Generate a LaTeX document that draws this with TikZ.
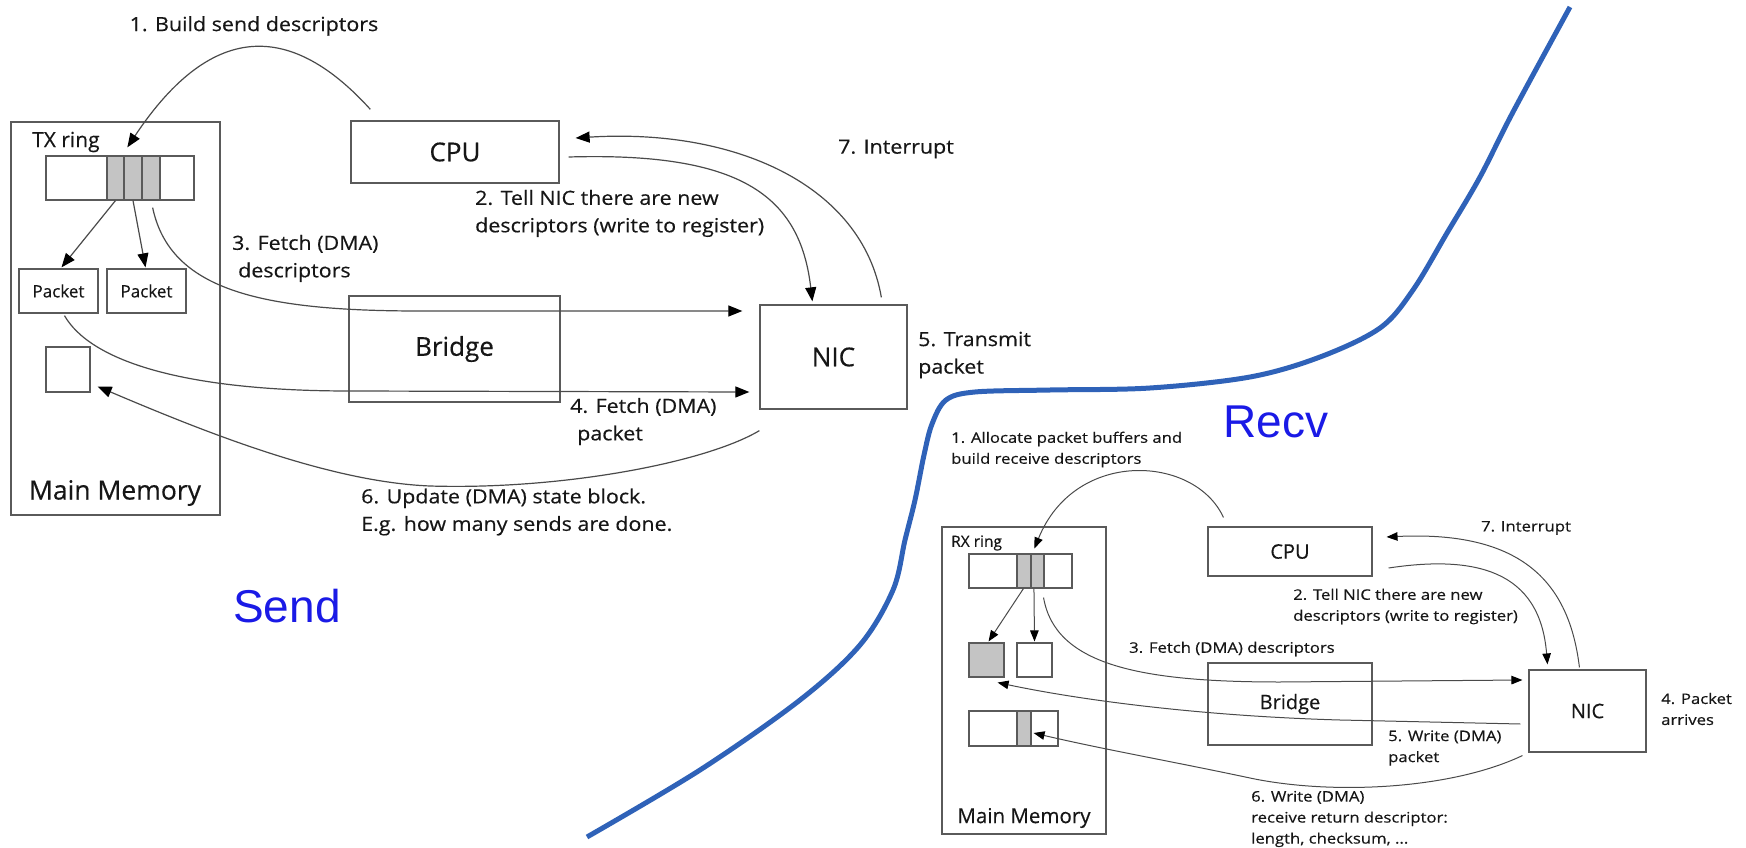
\documentclass[tikz,border=0pt]{standalone}
\usepackage{fontspec}
\setmainfont{Open Sans}[FakeStretch=1.15, FakeBold=0.4]
\newfontfamily\boxf{Open Sans}[FakeBold=0.4]
\newfontfamily\sendf{Open Sans}[FakeStretch=1.1, FakeBold=0.4]
\newfontfamily\arialf{Liberation Sans}
\usetikzlibrary{arrows.meta,calc}
\definecolor{linec}{HTML}{4A4A4A}
\definecolor{boxc}{HTML}{5A5A5A}
\definecolor{txtc}{HTML}{161616}
\definecolor{shadec}{HTML}{C4C4C4}
\definecolor{divc}{HTML}{2F62B8}
\definecolor{bluet}{HTML}{1A1AE6}
\begin{document}
\begin{tikzpicture}[x=1pt,y=-1pt,
  sbox/.style={draw=boxc, line width=1.3pt, inner sep=0pt, text=txtc},
  rbox/.style={draw=boxc, line width=1.1pt, inner sep=0pt, text=txtc},
  cell/.style={draw=boxc, line width=1.1pt, fill=shadec, inner sep=0pt},
  flow/.style={draw=linec, line width=1.2pt, -{Triangle[length=14pt,width=11pt,color=black]}},
  rflow/.style={draw=linec, line width=1pt, -{Triangle[length=11pt,width=8.5pt,color=black]}},
  lbl/.style={text=txtc, font=\sendf\fontsize{19.5}{27.5}\selectfont, align=left, inner sep=0pt},
  rlbl/.style={text=txtc, font=\fontsize{14.5}{21}\selectfont, align=left, inner sep=0pt},
  big/.style={font=\boxf\fontsize{26}{30}\selectfont},
  rbig/.style={font=\boxf\fontsize{20}{24}\selectfont},
  side/.style={text=bluet, font=\arialf\fontsize{46}{50}\selectfont, inner sep=0pt}
]
\useasboundingbox (0,0) rectangle (1746,848);

% ---------------- divider ----------------
\draw[divc, line width=5pt] plot[smooth, tension=0.55] coordinates {
 (587,837) (700,770) (800,700) (860,645) (893,590) (905,540) (915,500)
 (924,455) (932,424) (946,400) (975,392) (1050,390) (1150,388)
 (1250,377) (1320,357) (1380,328) (1413,290) (1447,233) (1480,177)
 (1513,112) (1570,7)};

% ---------------- SEND ----------------
\node[sbox, minimum width=209pt, minimum height=393pt] (mms) at (115.5,318.5) {};
\node[sbox, minimum width=148pt, minimum height=44pt] (txbar) at (120,178) {};
\node[cell, minimum width=17pt, minimum height=44pt] (tc1) at (115.5,178) {};
\node[cell, minimum width=18pt, minimum height=44pt] (tc2) at (133,178) {};
\node[cell, minimum width=18pt, minimum height=44pt] (tc3) at (151,178) {};
\node[sbox, minimum width=79pt, minimum height=44pt, font=\boxf\fontsize{17}{20}\selectfont] (pk1) at (58.5,291) {Packet};
\node[sbox, minimum width=79pt, minimum height=44pt, font=\boxf\fontsize{17}{20}\selectfont] (pk2) at (146.5,291) {Packet};
\node[sbox, minimum width=44pt, minimum height=45pt] (stbox) at (68,369.5) {};
\node[lbl, anchor=west, font=\boxf\fontsize{21}{24}\selectfont] (txlbl) at (32,142) {TX ring};
\node[lbl, font=\boxf\fontsize{26.5}{30}\selectfont] (mmslbl) at (115,493) {Main Memory};

\node[sbox, big, minimum width=208pt, minimum height=62pt] (cpu) at (455,152) {CPU};
\node[sbox, big, minimum width=211pt, minimum height=106pt] (bridge) at (454.5,349) {Bridge};
\node[sbox, big, minimum width=147pt, minimum height=104pt] (nic) at (833.5,357) {NIC};

\node[lbl] (t1s) at (254,26) {1. Build send descriptors};
\node[lbl, anchor=west] (t2s) at (475,213.5) {2. Tell NIC there are new\\descriptors (write to register)};
\node[lbl, anchor=west] (t3s) at (232,258.5) {3. Fetch (DMA)\\\hspace*{6pt}descriptors};
\node[lbl, anchor=west] (t4s) at (570,421.5) {4. Fetch (DMA)\\\hspace*{7pt}packet};
\node[lbl, anchor=west] (t5s) at (918,355) {5. Transmit\\packet};
\node[lbl, anchor=west] (t6s) at (361,512) {6. Update (DMA) state block.\\E.g. how many sends are done.};
\node[lbl] (t7s) at (896,149) {7. Interrupt};
\node[side] (sendlbl) at (287,606) {Send};

\draw[flow] ($(cpu.north west)+(20,-11)$) .. controls (294,25) and (214,17) .. ($(txbar.north west)+(82,-8)$);
\draw[flow] ($(tc1.south)+(0,0)$) -- ($(pk1.north)+(3,-1)$);
\draw[flow] ($(tc2.south)+(0,0)$) -- ($(pk2.north)+(-1,-1)$);
\draw[flow] ($(cpu.east)+(9,5)$) .. controls (740,152) and (800,195) .. ($(nic.north west)+(53,-3)$);
\draw[flow] ($(nic.north west)+(122,-7)$) .. controls (862,185) and (735,128) .. ($(cpu.east)+(16,-14)$);
\draw[flow] ($(txbar.south east)+(-42,7)$) .. controls (170,290) and (260,311) .. (420,311) -- ($(nic.west)+(-17,-46)$);
\draw[flow] ($(pk1.south)+(6,2)$) .. controls (90,360) and (180,391) .. (350,391) -- ($(nic.west)+(-10,35)$);
\draw[flow] ($(nic.south west)+(0,21)$) .. controls (705,463) and (560,490) .. (430,486) .. controls (330,482) and (207,433) .. ($(stbox.east)+(7,17)$);

% ---------------- RECV ----------------
\node[rbox, minimum width=164pt, minimum height=307pt] (mmr) at (1024,680.5) {};
\node[rbox, minimum width=103pt, minimum height=34pt] (rxbar) at (1020.5,571) {};
\node[cell, minimum width=14pt, minimum height=34pt] (rc1) at (1024,571) {};
\node[cell, minimum width=13pt, minimum height=34pt] (rc2) at (1037.5,571) {};
\node[cell, minimum width=35pt, minimum height=34pt] (rb1) at (986.5,660) {};
\node[rbox, minimum width=35pt, minimum height=34pt] (rb2) at (1034.5,660) {};
\node[rbox, minimum width=89pt, minimum height=35pt] (rxbar2) at (1013.5,728.5) {};
\node[cell, minimum width=14pt, minimum height=35pt] (rc3) at (1024,728.5) {};
\node[rlbl, anchor=west, font=\boxf\fontsize{15.5}{18}\selectfont] (rxlbl) at (951,543) {RX ring};
\node[rlbl, font=\boxf\fontsize{20.5}{24}\selectfont] (mmrlbl) at (1024,818) {Main Memory};

\node[rbox, rbig, minimum width=164pt, minimum height=49pt] (cpur) at (1290,551.5) {CPU};
\node[rbox, rbig, minimum width=164pt, minimum height=82pt] (bridger) at (1290,704) {Bridge};
\node[rbox, rbig, minimum width=117pt, minimum height=82pt] (nicr) at (1587.5,711) {NIC};

\node[rlbl, anchor=west] (t1r) at (951,449.5) {1. Allocate packet buffers and\\build receive descriptors};
\node[rlbl] (t7r) at (1526,528) {7. Interrupt};
\node[rlbl, anchor=west] (t2r) at (1293,606.5) {2. Tell NIC there are new\\descriptors (write to register)};
\node[rlbl, anchor=west] (t3r) at (1129,649) {3. Fetch (DMA) descriptors};
\node[rlbl, anchor=west] (t4r) at (1661,709) {4. Packet\\arrives};
\node[rlbl, anchor=west] (t5r) at (1388,748) {5. Write (DMA)\\packet};
\node[rlbl, anchor=west] (t6r) at (1251,819) {6. Write (DMA)\\receive return descriptor:\\length, checksum, ...};
\node[side] (recvlbl) at (1276,422) {Recv};

\draw[rflow] ($(cpur.north west)+(16,-9)$) .. controls (1195,455) and (1075,448) .. ($(rxbar.north west)+(66,-5)$);
\draw[rflow] ($(rxbar.south west)+(55,0)$) -- ($(rb1.north east)+(-16,-1)$);
\draw[rflow] ($(rxbar.south west)+(65.5,0)$) -- ($(rb2.north)+(0,-1)$);
\draw[rflow] ($(nicr.north west)+(51,-2)$) .. controls (1570,590) and (1530,530) .. ($(cpur.east)+(14,-14.5)$);
\draw[rflow] ($(cpur.east)+(16,16.5)$) .. controls (1475,555) and (1540,570) .. ($(nicr.north west)+(19,-5)$);
\draw[rflow] ($(rxbar.south east)+(-29,9)$) .. controls (1055,665) and (1140,682) .. (1280,682) -- ($(nicr.west)+(-6,-31)$);
\draw[rflow] ($(nicr.west)+(-8,13)$) -- (1340,720) .. controls (1200,716) and (1080,700) .. ($(rb1.south east)+(-7,5)$);
\draw[rflow] ($(nicr.south west)+(-6,3)$) .. controls (1450,790) and (1330,795) .. (1250,778) .. controls (1170,761) and (1104,749.5) .. ($(rxbar2.east)+(-25,4.5)$);
\end{tikzpicture}
\end{document}
